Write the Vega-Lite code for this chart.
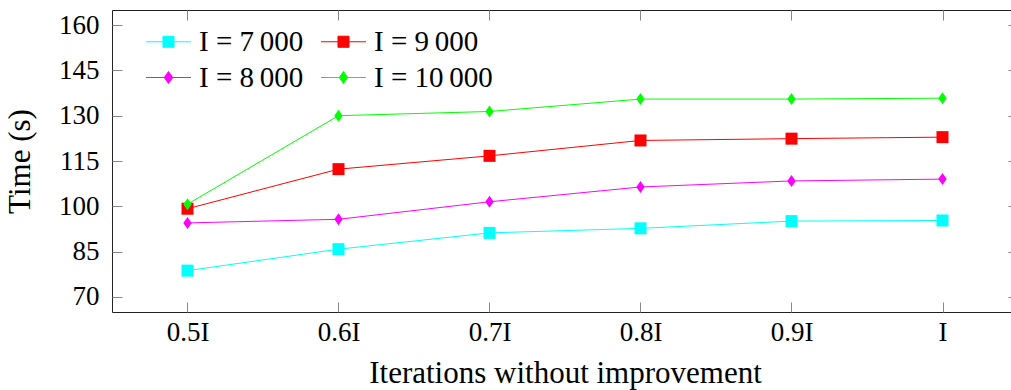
{
  "$schema": "https://vega.github.io/schema/vega-lite/v6.json",
  "width": 906,
  "height": 302,
  "autosize": {"type": "none"},
  "padding": {"left": 112, "top": 10, "right": 0, "bottom": 78},
  "config": {
    "view": {"stroke": "#222", "strokeWidth": 1},
    "font": "Liberation Serif",
    "axis": {
      "labelFont": "Liberation Serif",
      "titleFont": "Liberation Serif",
      "labelFontSize": 27,
      "titleFontSize": 31,
      "labelColor": "#000",
      "titleColor": "#000",
      "titleFontWeight": "normal",
      "tickColor": "#888",
      "tickSize": -10,
      "domain": false,
      "grid": false
    },
    "legend": {"symbolStrokeWidth": 1}
  },
  "data": {
    "values": [
      {"x": 0.5, "series": "I = 7\u2009000", "time": 78.7},
      {"x": 0.6, "series": "I = 7\u2009000", "time": 85.8},
      {"x": 0.7, "series": "I = 7\u2009000", "time": 91.2},
      {"x": 0.8, "series": "I = 7\u2009000", "time": 92.7},
      {"x": 0.9, "series": "I = 7\u2009000", "time": 95.1},
      {"x": 1.0, "series": "I = 7\u2009000", "time": 95.3},
      {"x": 0.5, "series": "I = 8\u2009000", "time": 94.5},
      {"x": 0.6, "series": "I = 8\u2009000", "time": 95.7},
      {"x": 0.7, "series": "I = 8\u2009000", "time": 101.5},
      {"x": 0.8, "series": "I = 8\u2009000", "time": 106.4},
      {"x": 0.9, "series": "I = 8\u2009000", "time": 108.4},
      {"x": 1.0, "series": "I = 8\u2009000", "time": 109.0},
      {"x": 0.5, "series": "I = 9\u2009000", "time": 99.2},
      {"x": 0.6, "series": "I = 9\u2009000", "time": 112.3},
      {"x": 0.7, "series": "I = 9\u2009000", "time": 116.7},
      {"x": 0.8, "series": "I = 9\u2009000", "time": 121.8},
      {"x": 0.9, "series": "I = 9\u2009000", "time": 122.4},
      {"x": 1.0, "series": "I = 9\u2009000", "time": 122.9},
      {"x": 0.5, "series": "I = 10\u2009000", "time": 100.7},
      {"x": 0.6, "series": "I = 10\u2009000", "time": 130.0},
      {"x": 0.7, "series": "I = 10\u2009000", "time": 131.4},
      {"x": 0.8, "series": "I = 10\u2009000", "time": 135.5},
      {"x": 0.9, "series": "I = 10\u2009000", "time": 135.5},
      {"x": 1.0, "series": "I = 10\u2009000", "time": 135.8}
    ]
  },
  "layer": [
    {
      "mark": {"type": "line", "strokeWidth": 1},
      "encoding": {
        "x": {
          "field": "x", "type": "quantitative",
          "scale": {"domain": [0.45, 1.05], "nice": false, "zero": false},
          "axis": {
            "orient": "bottom",
            "values": [0.5, 0.6, 0.7, 0.8, 0.9, 1.0],
            "labelExpr": "datum.value == 1 ? 'I' : format(datum.value, '.1f') + 'I'",
            "title": "Iterations without improvement",
            "labelPadding": 17,
            "titlePadding": 13
          }
        },
        "y": {
          "field": "time", "type": "quantitative",
          "scale": {"domain": [65, 165], "nice": false, "zero": false},
          "axis": {
            "orient": "left",
            "values": [70, 85, 100, 115, 130, 145, 160],
            "title": "Time (s)",
            "labelPadding": 23,
            "titlePadding": 22
          }
        },
        "color": {
          "field": "series", "type": "nominal",
          "scale": {
            "domain": ["I = 7\u2009000", "I = 8\u2009000", "I = 9\u2009000", "I = 10\u2009000"],
            "range": ["#00ffff", "#ff00ff", "#ff0000", "#00ff00"]
          }
        }
      }
    },
    {
      "transform": [{"filter": {"field": "series", "oneOf": ["I = 7\u2009000", "I = 9\u2009000"]}}],
      "mark": {"type": "point", "filled": true, "opacity": 1, "size": 144, "shape": "square"},
      "encoding": {
        "x": {
          "field": "x", "type": "quantitative",
          "axis": {
            "orient": "top",
            "values": [0.5, 0.6, 0.7, 0.8, 0.9, 1.0],
            "labels": false,
            "title": null
          }
        },
        "y": {
          "field": "time", "type": "quantitative",
          "axis": {
            "orient": "right",
            "values": [70, 85, 100, 115, 130, 145, 160],
            "labels": false,
            "title": null
          }
        },
        "color": {"field": "series", "type": "nominal"}
      }
    },
    {
      "transform": [{"filter": {"field": "series", "oneOf": ["I = 8\u2009000", "I = 10\u2009000"]}}],
      "mark": {"type": "point", "filled": true, "opacity": 1, "size": 144, "shape": "M0,-1L0.7,0L0,1L-0.7,0Z"},
      "encoding": {
        "x": {"field": "x", "type": "quantitative", "axis": null},
        "y": {"field": "time", "type": "quantitative", "axis": null},
        "color": {"field": "series", "type": "nominal"}
      }
    },
    {
      "transform": [{"filter": "false"}],
      "mark": {"type": "point", "filled": true, "opacity": 1, "size": 144},
      "encoding": {
        "x": {"field": "x", "type": "quantitative", "axis": null},
        "y": {"field": "time", "type": "quantitative", "axis": null},
        "color": {
          "field": "series", "type": "nominal",
          "legend": {
            "title": null,
            "orient": "none",
            "legendX": 42,
            "legendY": 17,
            "columns": 2,
            "padding": 0,
            "symbolSize": 144,
            "symbolStrokeWidth": 1,
            "labelFont": "Liberation Serif",
            "labelFontSize": 29,
            "labelColor": "#000",
            "labelOffset": 16,
            "rowPadding": 6,
            "columnPadding": 15
          }
        },
        "stroke": {
          "field": "series", "type": "nominal",
          "scale": {
            "domain": ["I = 7\u2009000", "I = 8\u2009000", "I = 9\u2009000", "I = 10\u2009000"],
            "range": ["#00ffff", "#ff00ff", "#ff0000", "#00ff00"]
          }
        },
        "shape": {
          "field": "series", "type": "nominal",
          "scale": {
            "domain": ["I = 7\u2009000", "I = 8\u2009000", "I = 9\u2009000", "I = 10\u2009000"],
            "range": ["M-3.75,0H3.75M-0.92,-0.92H0.92V0.92H-0.92Z", "M-3.75,0H3.75M0,-1L0.7,0L0,1L-0.7,0Z", "M-3.75,0H3.75M-0.92,-0.92H0.92V0.92H-0.92Z", "M-3.75,0H3.75M0,-1L0.7,0L0,1L-0.7,0Z"]
          }
        }
      }
    }
  ],
  "resolve": {"axis": {"x": "independent", "y": "independent"}}
}
